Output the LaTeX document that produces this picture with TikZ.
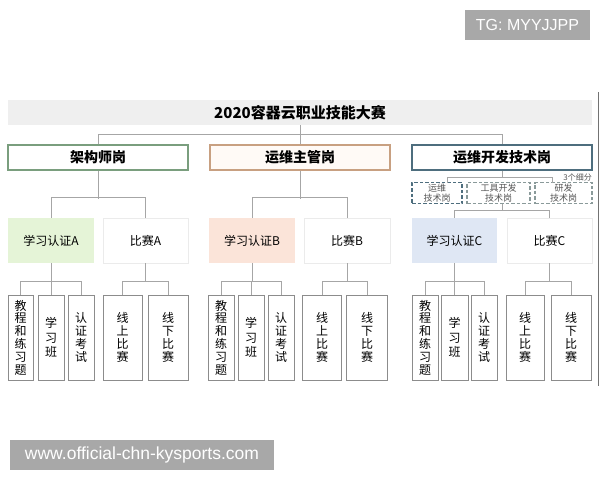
\documentclass[tikz,border=0pt]{standalone}
\usepackage{fontspec}
\setmainfont{Noto Sans CJK SC}
\newfontfamily\wmfont{Liberation Sans}
\definecolor{titlebg}{HTML}{EFEFEF}
\definecolor{linegray}{HTML}{A6A6A6}
\definecolor{borderA}{HTML}{7A9E7E}
\definecolor{borderB}{HTML}{C8A081}
\definecolor{fillB}{HTML}{FFFAF6}
\definecolor{borderC}{HTML}{4E6E7E}
\definecolor{fillmA}{HTML}{E5F4D7}
\definecolor{fillmB}{HTML}{FBE4D9}
\definecolor{fillmC}{HTML}{DFE7F4}
\definecolor{midedge}{HTML}{EBEBEB}
\definecolor{leafedge}{HTML}{8C8C8C}
\definecolor{dashlight}{HTML}{8A9A9A}
\definecolor{subtext}{HTML}{555555}
\definecolor{wmgray}{HTML}{A8A8A8}
\begin{document}
\begin{tikzpicture}[x=1pt,y=-1pt,
  conn/.style={draw=linegray,line width=0.9pt},
  topbox/.style={line width=1.1pt,minimum width=180pt,minimum height=25pt,inner sep=0pt,font=\fontsize{14}{16}\selectfont\bfseries},
  midbox/.style={minimum width=86pt,minimum height=45pt,inner sep=0pt,font=\fontsize{12}{14}\selectfont},
  leaf/.style={draw=leafedge,line width=0.9pt,minimum height=85pt,inner sep=0pt,align=center,font=\fontsize{12}{12.8}\selectfont},
  leaf3/.style={leaf,font=\fontsize{12}{14.5}\selectfont},
  subbox/.style={dash pattern=on 3.5pt off 2pt,line width=1.1pt,minimum height=21pt,inner sep=0pt,align=center,text=subtext,font=\fontsize{9}{10.5}\selectfont},
  wm/.style={fill=wmgray,text=white,inner sep=0pt,font=\wmfont}
]
\useasboundingbox (0,0) rectangle (600,480);

% title
\node[fill=titlebg,minimum width=584pt,minimum height=25pt,inner sep=0pt,font=\fontsize{15}{17}\selectfont\bfseries] (title) at (300,112.5) {2020容器云职业技能大赛};

% top boxes
\node[topbox,draw=borderA,fill=white] (tA) at (98,157.5) {架构师岗};
\node[topbox,draw=borderB,fill=fillB] (tB) at (300,157.5) {运维主管岗};
\node[topbox,draw=borderC,fill=white] (tC) at (502,157.5) {运维开发技术岗};

% sub-roles of C
\node[subbox,draw=borderC,minimum width=50pt] (s1) at (437,193) {运维\\技术岗};
\node[subbox,draw=dashlight,minimum width=63pt] (s2) at (498.5,193) {工具开发\\技术岗};
\node[subbox,draw=dashlight,minimum width=57pt] (s3) at (563.5,193) {研发\\技术岗};
\node[anchor=south east,inner sep=0pt,text=subtext,font=\fontsize{8}{9}\selectfont] (note) at (592,181) {3个细分};

% mid boxes
\node[midbox,fill=fillmA] (mA) at (51,240.5) {学习认证A};
\node[midbox,draw=midedge,fill=white,minimum width=85pt] (mA2) at (145.5,240.5) {比赛A};
\node[midbox,fill=fillmB] (mB) at (252,240.5) {学习认证B};
\node[midbox,draw=midedge,fill=white] (mB2) at (347,240.5) {比赛B};
\node[midbox,fill=fillmC,minimum width=85pt] (mC) at (454.5,240.5) {学习认证C};
\node[midbox,draw=midedge,fill=white,minimum width=85pt] (mC2) at (549.5,240.5) {比赛C};

% leaves A
\node[leaf,minimum width=25pt] (a1) at (20.5,337.5) {教\\程\\和\\练\\习\\题};
\node[leaf3,minimum width=26pt] (a2) at (51,337.5) {学\\习\\班};
\node[leaf,minimum width=26pt] (a3) at (81,337.5) {认\\证\\考\\试};
\node[leaf,minimum width=39pt] (a4) at (122.5,337.5) {线\\上\\比\\赛};
\node[leaf,minimum width=40pt] (a5) at (168,337.5) {线\\下\\比\\赛};
% leaves B
\node[leaf,minimum width=26pt] (b1) at (221,337.5) {教\\程\\和\\练\\习\\题};
\node[leaf3,minimum width=26pt] (b2) at (251,337.5) {学\\习\\班};
\node[leaf,minimum width=26pt] (b3) at (281,337.5) {认\\证\\考\\试};
\node[leaf,minimum width=39pt] (b4) at (322,337.5) {线\\上\\比\\赛};
\node[leaf,minimum width=41pt] (b5) at (367,337.5) {线\\下\\比\\赛};
% leaves C
\node[leaf,minimum width=26pt] (c1) at (425,337.5) {教\\程\\和\\练\\习\\题};
\node[leaf3,minimum width=27pt] (c2) at (454.5,337.5) {学\\习\\班};
\node[leaf,minimum width=26pt] (c3) at (484,337.5) {认\\证\\考\\试};
\node[leaf,minimum width=38pt] (c4) at (525,337.5) {线\\上\\比\\赛};
\node[leaf,minimum width=40pt] (c5) at (571,337.5) {线\\下\\比\\赛};

% connectors: title -> top
\draw[conn] (title.south) -- (tB.north);
\draw[conn] (tA.north) -- +(0,-10) -| (tC.north);

% top -> mid
\draw[conn] (tA.south) -- +(0,28);
\draw[conn] (mA.north) -- +(0,-20) -| (mA2.north);
\draw[conn] (tB.south) -- +(0,28);
\draw[conn] (mB.north) -- +(0,-20) -| (mB2.north);

% C via sub-roles
\coordinate (bl) at (447,182.5);
\coordinate (br) at (552,182.5);
\draw[conn] (tC.south) -- +(0,7);
\draw[conn] (bl) -- +(0,-5) -| (br);
\draw[conn] (tC.south |- s2.south) -- +(0,7);
\draw[conn] (mC.north) -- +(0,-7) -| (mC2.north);

% mid -> leaves
\foreach \m/\l/\r/\c in {mA/a1/a3/a2, mB/b1/b3/b2, mC/c1/c3/c2}{
  \draw[conn] (\m.south) -- +(0,19);
  \draw[conn] (\l.north) -- +(0,-13) -| (\r.north);
  \draw[conn] (\c.north) -- +(0,-13);
}
\foreach \m/\l/\r in {mA2/a4/a5, mB2/b4/b5, mC2/c4/c5}{
  \draw[conn] (\m.south) -- +(0,19);
  \draw[conn] (\l.north) -- +(0,-13) -| (\r.north);
}

% right edge line
\draw[line width=1pt,color=black!55] (598.5,92) -- (598.5,386);

% watermarks
\node[wm,minimum width=125pt,minimum height=30pt,font=\wmfont\fontsize{16}{18}\selectfont] (wm1) at (527.5,25) {TG: MYYJJPP};
\node[wm,minimum width=264pt,minimum height=30pt,font=\wmfont\fontsize{17.5}{20}\selectfont] (wm2) at (142,455) {www.official-chn-kysports.com};
\end{tikzpicture}
\end{document}
